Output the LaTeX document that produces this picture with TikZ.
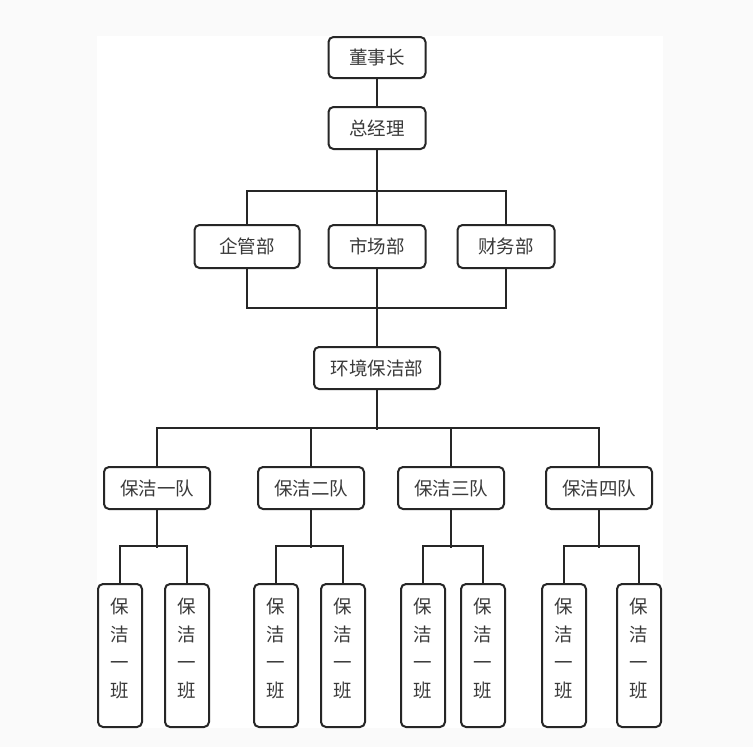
\documentclass[tikz,border=0pt]{standalone}
\usepackage{fontspec}
\newfontfamily\cjk{Noto Sans CJK SC}
\definecolor{bgc}{HTML}{FAFAFA}
\definecolor{linec}{HTML}{262626}
\definecolor{textc}{HTML}{3A3A3A}
\begin{document}
\begin{tikzpicture}[x=1pt,y=-1pt,
  box/.style={draw=linec, line width=2pt, rounded corners=5pt, fill=white, inner sep=0pt, text=textc},
  hbox/.style={box, minimum height=42pt, font=\cjk\fontsize{18.5}{20}\selectfont},
  vbox/.style={box, minimum width=44pt, minimum height=143pt, align=center, font=\cjk\fontsize{18.5}{28}\selectfont, text depth=16pt},
  conn/.style={draw=linec, line width=2pt}]
\useasboundingbox (0,0) rectangle (753,747);
\fill[bgc] (0,0) rectangle (753,747);
\fill[white] (97,36) rectangle (663,728);

% top levels
\node[hbox, minimum width=97pt, minimum height=41pt] (a) at (377,57.5) {董事长};
\node[hbox, minimum width=97pt] (b) at (377,128) {总经理};
\node[hbox, minimum width=105pt, minimum height=43pt] (qg) at (247,246.5) {企管部};
\node[hbox, minimum width=97pt, minimum height=43pt] (sc) at (377,246.5) {市场部};
\node[hbox, minimum width=97pt, minimum height=43pt] (cw) at (506,246.5) {财务部};
\node[hbox, minimum width=126pt] (hj) at (377,368) {环境保洁部};

% teams
\node[hbox, minimum width=106pt] (d1) at (157,488) {保洁一队};
\node[hbox, minimum width=106pt] (d2) at (311,488) {保洁二队};
\node[hbox, minimum width=106pt] (d3) at (451,488) {保洁三队};
\node[hbox, minimum width=106pt] (d4) at (599,488) {保洁四队};

% classes
\node[vbox] (c1) at (120,655.5) {保\\洁\\一\\班};
\node[vbox] (c2) at (187,655.5) {保\\洁\\一\\班};
\node[vbox] (c3) at (276,655.5) {保\\洁\\一\\班};
\node[vbox] (c4) at (343,655.5) {保\\洁\\一\\班};
\node[vbox] (c5) at (423,655.5) {保\\洁\\一\\班};
\node[vbox] (c6) at (483,655.5) {保\\洁\\一\\班};
\node[vbox] (c7) at (564,655.5) {保\\洁\\一\\班};
\node[vbox] (c8) at (639,655.5) {保\\洁\\一\\班};

% connectors
\draw[conn] (a) -- (b);
\draw[conn] (b.south) -- (b.south |- sc.north);
\draw[conn] (qg.north) -- ++(0,-33) -| (cw.north);
\draw[conn] (qg.south) -- ++(0,39) -| (cw.south);
\draw[conn] (sc.south) -- (sc.south |- hj.north);
\draw[conn] (hj.south) -- ++(0,40);
\draw[conn] (d1.north) -- ++(0,-38) -| (d4.north);
\draw[conn] (d2.north) -- ++(0,-38);
\draw[conn] (d3.north) -- ++(0,-38);

\draw[conn] (d1.south) -- ++(0,38);
\draw[conn] (c1.north) -- ++(0,-37) -| (c2.north);
\draw[conn] (d2.south) -- ++(0,38);
\draw[conn] (c3.north) -- ++(0,-37) -| (c4.north);
\draw[conn] (d3.south) -- ++(0,38);
\draw[conn] (c5.north) -- ++(0,-37) -| (c6.north);
\draw[conn] (d4.south) -- ++(0,38);
\draw[conn] (c7.north) -- ++(0,-37) -| (c8.north);
\end{tikzpicture}
\end{document}
